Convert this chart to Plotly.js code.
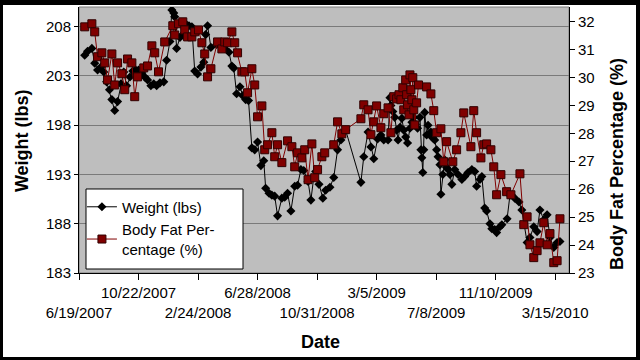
<!DOCTYPE html>
<html><head><meta charset="utf-8">
<script src="https://cdn.plot.ly/plotly-3.0.1.min.js"></script>
<style>
html,body{margin:0;padding:0;background:#fff;}
#wrap{position:relative;width:640px;height:360px;overflow:hidden;}
#chart{position:absolute;left:0;top:0;width:640px;height:360px;}
#frame{position:absolute;left:0;top:0;width:640px;height:360px;box-sizing:border-box;border-style:solid;border-color:#000;border-width:5px 4px 3px 3px;pointer-events:none;}
</style></head><body>
<div id="wrap"><div id="chart"></div><div id="frame"></div></div>
<script>
// Day offsets are counted from the start date 6/19/2007
const startDateUTC = Date.UTC(2007, 5, 19);

const weightDays = [12,18,27,33,39,46,52,58,64,69,
75,81,88,94,100,107,113,119,125,132,
138,144,151,157,163,170,178,184,191,195,
199,201,205,212,218,224,231,237,243,249,
256,262,266,270,277,289,298,306,315,321,
325,331,338,344,350,356,363,369,375,382,
388,392,399,405,411,417,426,432,438,445,
453,459,466,472,481,487,493,497,504,512,
518,527,535,543,550,560,592,598,607,613,
619,627,634,640,649,653,655,659,663,667,
670,674,678,682,686,690,695,699,703,707,
711,716,718,720,722,724,726,730,733,737,
739,743,747,751,754,758,760,764,768,772,
775,779,783,789,796,804,810,817,825,831,
835,842,846,852,856,863,867,873,877,884,
888,899,905,915,924,930,941,947,955,962,
968,976,983,989,997,1004,1010];

const weightLbs = [205.1,205.5,205.8,204.3,203.6,203.9,203.4,202.4,201.6,200.6,
199.5,200.4,202.2,203.4,202.0,202.9,203.5,203.6,203.6,203.3,
202.9,202.6,202.0,202.2,202.0,202.3,202.4,204.6,206.5,209.7,
209.4,209.0,205.8,206.9,207.2,208.3,208.1,208.0,203.5,203.2,
203.9,204.4,207.2,208.1,205.9,206.2,206.1,205.8,205.4,204.0,
203.8,201.2,201.9,201.0,200.6,200.5,195.7,195.5,196.3,193.9,
194.4,191.6,191.1,190.9,190.8,188.8,190.6,190.7,191.1,189.3,
191.8,191.9,193.5,193.4,192.3,190.4,192.7,193.3,192.0,190.6,
191.4,191.7,192.7,195.5,196.5,197.5,192.2,194.8,197.3,195.8,
194.6,196.6,197.0,196.5,196.5,200.8,200.0,199.4,198.8,197.5,
196.5,197.8,198.7,197.5,196.8,196.2,197.7,198.3,198.8,198.1,
197.7,198.8,195.5,194.7,193.2,195.5,199.3,197.0,198.0,197.0,
197.3,196.7,196.5,195.5,194.8,194.0,191.0,193.0,194.5,193.7,
193.5,193.0,192.0,193.5,193.0,192.5,192.8,193.2,193.5,193.3,
191.8,192.5,192.8,189.6,189.3,188.0,187.5,187.4,187.1,187.7,
187.9,188.5,190.9,190.6,190.2,189.4,186.1,186.6,187.7,187.2,
189.4,188.4,188.9,186.6,185.6,186.1,186.2];

const fatDays = [12,27,33,39,48,54,60,69,75,81,
90,96,102,111,117,123,136,144,153,159,
167,180,197,201,209,218,222,228,237,243,
251,258,264,270,277,291,300,306,312,321,
327,333,342,348,354,363,369,375,384,390,
396,405,411,417,426,438,447,453,459,468,
474,481,489,495,501,510,516,535,543,552,
560,592,598,607,613,619,625,634,640,649,
655,661,667,672,676,680,682,686,688,690,
693,695,697,699,701,703,705,709,713,730,
739,745,751,760,766,772,785,793,802,808,
823,829,835,844,850,856,865,871,877,886,
898,907,926,934,941,947,955,962,968,976,
983,989,997,1004,1010];

const fatPct = [31.81,31.92,31.63,30.74,30.88,30.52,29.91,30.84,29.73,30.52,
30.13,29.56,30.66,30.52,29.31,30.02,30.34,30.41,31.13,30.88,
30.20,31.27,31.85,31.52,31.92,31.99,31.70,31.45,31.45,31.63,
31.70,31.24,30.84,30.02,30.31,31.27,31.02,31.27,31.24,31.63,
31.24,30.88,30.20,30.20,29.45,30.31,29.73,28.59,28.98,27.41,
27.59,28.02,27.16,27.59,26.95,27.73,27.52,26.80,27.30,27.12,
27.41,26.34,27.62,26.41,26.70,27.16,27.30,27.59,28.41,27.98,
28.13,28.52,29.02,28.84,27.95,28.41,28.98,28.20,28.70,28.91,
28.02,29.31,29.23,29.38,29.20,29.63,28.84,29.91,29.38,29.02,
28.66,30.09,29.56,29.20,29.99,28.84,28.30,29.09,29.73,29.66,
29.41,28.81,28.02,28.16,26.98,27.70,26.98,27.41,28.02,28.73,
27.52,28.81,28.02,27.12,27.59,27.62,27.41,26.80,25.80,26.52,
25.91,25.80,26.55,24.73,25.01,24.01,23.55,23.80,24.08,24.80,
24.01,24.41,23.37,23.44,24.94];

const dateTickLabels = ['6/19/2007','10/22/2007','2/24/2008','6/28/2008','10/31/2008','3/5/2009','7/8/2009','11/10/2009','3/15/2010'];
const weightTicks = [183,188,193,198,203,208];
const fatTicks = [23,24,25,26,27,28,29,30,31,32];

function dayToDate(d){ return new Date(startDateUTC + d*86400000).toISOString().slice(0,10); }
function mdyToIso(s){ const p = s.split('/'); return p[2]+'-'+p[0].padStart(2,'0')+'-'+p[1].padStart(2,'0'); }

const FONT = 'Liberation Sans, Arial, sans-serif';

const traces = [
  {
    x: weightDays.map(dayToDate), y: weightLbs, name: 'Weight (lbs)',
    type: 'scatter', mode: 'lines+markers', yaxis: 'y',
    line: {color: '#000000', width: 1},
    marker: {symbol: 'diamond', size: 7, color: '#000000'}
  },
  {
    x: fatDays.map(dayToDate), y: fatPct, name: 'Body Fat Per-<br>centage (%)',
    type: 'scatter', mode: 'lines+markers', yaxis: 'y2',
    line: {color: '#800000', width: 1},
    marker: {symbol: 'square', size: 8, color: '#800000', line: {color: '#300000', width: 1}}
  }
];

const layout = {
  width: 640, height: 360,
  margin: {l: 79, r: 71, t: 7, b: 87, pad: 0},
  paper_bgcolor: '#ffffff', plot_bgcolor: '#bebebe',
  font: {family: FONT, size: 15, color: '#000'},
  showlegend: true,
  legend: {x: 0.006, y: 0.31, xanchor: 'left', yanchor: 'top', bgcolor: 'rgba(0,0,0,0)', borderwidth: 0,
           font: {family: FONT, size: 15, color: '#000'}, tracegroupgap: 0},
  xaxis: {
    type: 'date', range: ['2007-06-19', '2010-04-13'],
    tickvals: dateTickLabels.map(mdyToIso),
    ticktext: dateTickLabels.map((s, i) => i % 2 === 0 ? '<br>' + s : s),
    tickangle: 0,
    ticks: 'outside', ticklen: 6, tickcolor: '#000', tickwidth: 1,
    showline: true, linecolor: '#000', linewidth: 1,
    showgrid: false, zeroline: false,
    tickfont: {family: FONT, size: 15, color: '#000'}
  },
  yaxis: {
    range: [183, 210], tickvals: weightTicks,
    ticks: 'outside', ticklen: 4, tickcolor: '#000',
    showline: true, linecolor: '#000', linewidth: 1,
    showgrid: true, gridcolor: '#7a7a7a', gridwidth: 1, zeroline: false,
    tickfont: {family: FONT, size: 15, color: '#000'}
  },
  yaxis2: {
    overlaying: 'y', side: 'right', range: [23, 32.52], tickvals: fatTicks,
    ticks: 'outside', ticklen: 5, tickcolor: '#000',
    showline: true, linecolor: '#000', linewidth: 1,
    showgrid: false, zeroline: false,
    tickfont: {family: FONT, size: 15, color: '#000'}
  },
  shapes: [
    {type: 'rect', xref: 'paper', yref: 'paper', x0: 0, x1: 1, y0: 0, y1: 1, line: {color: '#7a7a7a', width: 1}, layer: 'below'},
    {type: 'rect', xref: 'paper', yref: 'paper', x0: 0.0143, x1: 0.3347, y0: 0.015, y1: 0.3158,
     fillcolor: '#ffffff', line: {color: '#000', width: 1}, layer: 'above'}
  ],
  annotations: [
    {text: 'Weight (lbs)', xref: 'paper', yref: 'paper', x: -0.1163, y: 0.496, textangle: -90,
     showarrow: false, xanchor: 'center', yanchor: 'middle', font: {family: FONT, size: 18, weight: 'bold', color: '#000'}},
    {text: 'Body Fat Percentage (%)', xref: 'paper', yref: 'paper', x: 1.098, y: 0.41, textangle: -90,
     showarrow: false, xanchor: 'center', yanchor: 'middle', font: {family: FONT, size: 18, weight: 'bold', color: '#000'}},
    {text: 'Date', xref: 'paper', yref: 'paper', x: 0.492, y: -0.259,
     showarrow: false, xanchor: 'center', yanchor: 'middle', font: {family: FONT, size: 18, weight: 'bold', color: '#000'}}
  ]
};

Plotly.newPlot('chart', traces, layout, {staticPlot: true, displayModeBar: false});
</script>
</body></html>
